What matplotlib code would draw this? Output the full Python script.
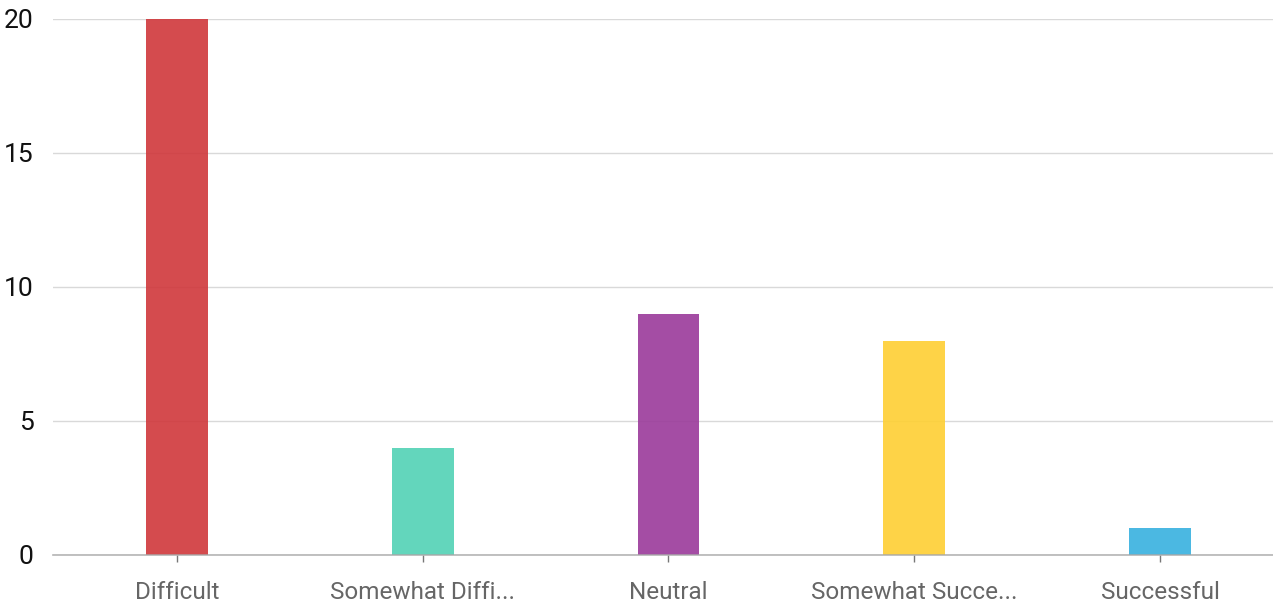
import matplotlib
matplotlib.use('Agg')
import matplotlib.pyplot as plt
import numpy as np

categories = ['Difficult', 'Somewhat Diffi...', 'Neutral', 'Somewhat Succe...', 'Successful']
counts = [20, 4, 9, 8, 1]
colors = ['#d0373b', '#52d2b5', '#9a3a9a', '#fecf33', '#37b1df']
yticks = [0, 5, 10, 15, 20]

plt.rcParams['font.family'] = ['Roboto', 'DejaVu Sans']

fig = plt.figure(figsize=(12.73, 6.06), dpi=100)
ax = fig.add_axes([53/1273, 51/606, 1 - 53/1273, 536/606])

x = np.arange(len(categories))
ax.bar(x, counts, width=0.252, color=colors, alpha=0.9, zorder=2)

ax.set_ylim(0, 20)
ax.set_xlim(-0.5046, 4.46)
ax.set_yticks(yticks)
ax.set_xticks(x)
ax.set_xticklabels(categories)
ax.set_axisbelow(True)
ax.yaxis.grid(True, color='#d9d9d9', linewidth=1.0)

for s in ['top', 'right', 'left']:
    ax.spines[s].set_visible(False)
ax.spines['bottom'].set_color('#a8a8a8')
ax.spines['bottom'].set_alpha(0.85)
ax.spines['bottom'].set_linewidth(1.2)
ax.spines['bottom'].set_zorder(3)

ax.tick_params(axis='y', length=0, pad=14, labelsize=19, labelcolor='#111111')
ax.tick_params(axis='x', length=5, width=1.0, color='#777777', pad=13.5, labelsize=17.5, labelcolor='#666666')

fig.savefig('out.png', dpi=100)
